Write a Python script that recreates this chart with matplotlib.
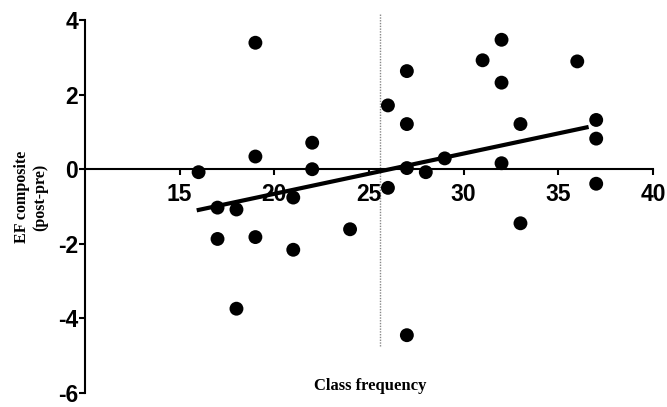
import numpy as np
import matplotlib
matplotlib.use('Agg')
import matplotlib.pyplot as plt

plt.rcParams['axes.unicode_minus'] = False

# Class frequency vs change in EF composite (post - pre)
class_freq = [19, 26, 22, 19, 16, 22, 17, 18, 21, 17, 19, 21, 24, 18, 26,
              27, 27, 27, 28, 29, 31, 32, 32, 32, 33, 36, 37, 37, 37, 33, 27]
ef_change = [3.39, 1.71, 0.71, 0.34, -0.08, 0.0, -1.03, -1.08, -0.76, -1.87,
             -1.82, -2.16, -1.61, -3.74, -0.5, 2.63, 1.21, 0.03, -0.08, 0.29,
             2.92, 3.47, 2.32, 0.16, 1.21, 2.89, 1.32, 0.82, -0.39, -1.45, -4.45]
cutoff = 25.6  # dotted reference line

# regression line as printed in the figure
fit_x = [15.9, 36.6]
fit_slope = 0.108
fit_intercept = -2.82

x_ticks = [15, 20, 25, 30, 35, 40]
y_ticks = [-6, -4, -2, 0, 2, 4]

fig = plt.figure(figsize=(6.67, 4.07), dpi=100)
ax = fig.add_axes([85 / 667, 14 / 407, (653 - 85) / 667, (393 - 20) / 407])

ax.set_xlim(10, 40)
ax.set_ylim(-6, 4)

xs = np.array(fit_x)
ax.plot(xs, fit_slope * xs + fit_intercept, color='black', linewidth=3,
        zorder=2, solid_capstyle='butt')

ax.scatter(class_freq, ef_change, s=100, color='black', zorder=3,
           edgecolors='none')

ax.plot([cutoff, cutoff], [-4.75, 4.15], color='#888888', linewidth=1,
        linestyle=(0, (1, 1)), zorder=1, clip_on=False)

# axis lines through the origin like the original prism-style figure
for side in ['top', 'right']:
    ax.spines[side].set_visible(False)
ax.spines['bottom'].set_position(('data', 0))
ax.spines['left'].set_linewidth(1.5)
ax.spines['bottom'].set_linewidth(1.5)

ax.set_xticks(x_ticks)
ax.set_yticks(y_ticks)
ax.tick_params(axis='both', direction='out', length=4, width=1.5)
ax.tick_params(axis='x', pad=6)
ax.tick_params(axis='y', pad=1)
for lab in ax.get_xticklabels() + ax.get_yticklabels():
    lab.set_fontfamily('Liberation Sans')
    lab.set_fontweight('bold')
    lab.set_fontsize(16.5)

fig.text(370 / 667, 1 - 386 / 407, 'Class frequency', ha='center', va='center',
         fontfamily='Liberation Serif', fontweight='bold', fontsize=12)
fig.text(31 / 667, 1 - 197 / 407, 'EF composite\n(post-pre)', ha='center',
         va='center', rotation=90, fontfamily='Liberation Serif',
         fontweight='bold', fontsize=11.5, linespacing=1.2)

fig.savefig('out.png', dpi=100)
